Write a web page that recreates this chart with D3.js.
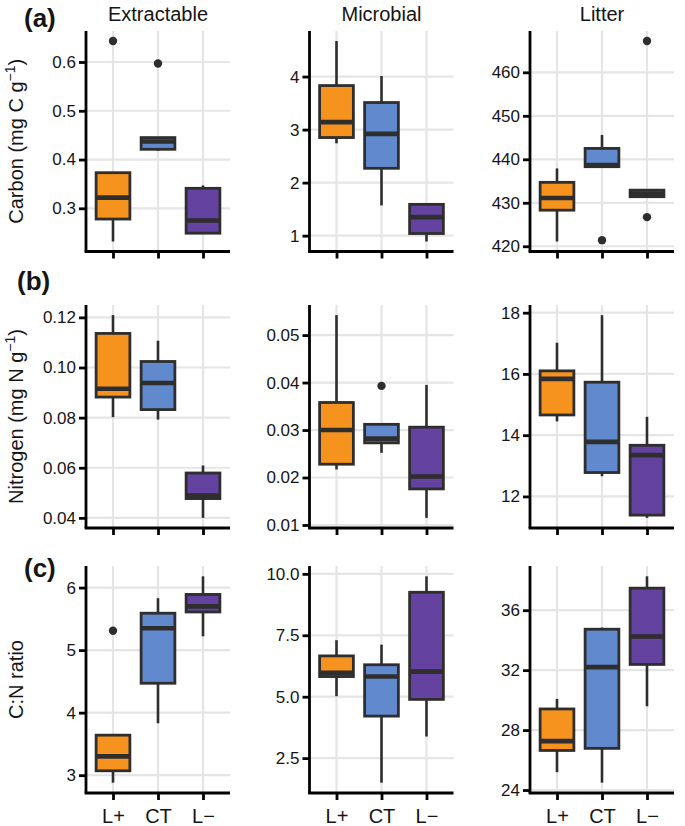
<!DOCTYPE html>
<html>
<head>
<meta charset="utf-8">
<script src="https://cdn.jsdelivr.net/npm/d3@7"></script>
<style>
  body { margin: 0; background: #fff; }
  svg { display: block; font-family: "Liberation Sans", Arial, Helvetica, sans-serif; }
</style>
</head>
<body>
<svg id="chart" width="685" height="826"></svg>
<script>
// ---- data ----
const groups = ["L+", "CT", "L\u2212"];
const colTitles = ["Extractable", "Microbial", "Litter"];
const rowLabels = ["(a)", "(b)", "(c)"];
const fillColors = ["#F6931E", "#6189CE", "#6442A0"];

// each group: [lowerWhisker, q1, median, q3, upperWhisker]
const carbonExtractable = [[0.232, 0.278, 0.322, 0.373, 0.373], [0.418, 0.421, 0.437, 0.445, 0.445], [0.249, 0.249, 0.275, 0.341, 0.347]];
const carbonExtractableOut = [[0.643], [0.597], []];
const carbonMicrobial = [[2.74, 2.85, 3.14, 3.83, 4.67], [1.57, 2.27, 2.92, 3.51, 4.01], [0.89, 1.04, 1.35, 1.59, 1.59]];
const carbonMicrobialOut = [[], [], []];
const carbonLitter = [[421.1, 428.3, 431.1, 434.7, 437.9], [438.3, 438.3, 438.7, 442.5, 445.6], [431.4, 431.4, 432.0, 432.9, 432.9]];
const carbonLitterOut = [[], [421.4], [467.2, 426.7]];

const nitrogenExtractable = [[0.0802, 0.0882, 0.0915, 0.1136, 0.1209], [0.0792, 0.0832, 0.0938, 0.1024, 0.1107], [0.040, 0.0477, 0.0489, 0.0579, 0.0609]];
const nitrogenExtractableOut = [[], [], []];
const nitrogenMicrobial = [[0.0217, 0.0228, 0.0300, 0.0358, 0.0542], [0.0252, 0.0273, 0.0282, 0.0312, 0.0312], [0.0115, 0.0176, 0.0202, 0.0306, 0.0395]];
const nitrogenMicrobialOut = [[], [0.0393], []];
const nitrogenLitter = [[14.45, 14.66, 15.84, 16.10, 17.02], [12.66, 12.78, 13.78, 15.73, 17.92], [11.30, 11.39, 13.35, 13.67, 14.60]];
const nitrogenLitterOut = [[], [], []];

const cnExtractable = [[2.88, 3.07, 3.30, 3.64, 3.64], [3.83, 4.47, 5.35, 5.59, 5.83], [5.22, 5.61, 5.70, 5.89, 6.18]];
const cnExtractableOut = [[5.31], [], []];
const cnMicrobial = [[5.02, 5.82, 5.97, 6.66, 7.30], [1.50, 4.21, 5.82, 6.30, 7.12], [3.38, 4.89, 6.02, 9.25, 9.90]];
const cnMicrobialOut = [[], [], []];
const cnLitter = [[25.19, 26.64, 27.26, 29.41, 30.08], [24.49, 26.78, 32.2, 34.73, 34.84], [29.59, 32.38, 34.24, 37.47, 38.26]];
const cnLitterOut = [[], [], []];

const ticksCarbonExtractable = [0.3, 0.4, 0.5, 0.6];
const ticksCarbonMicrobial = [1, 2, 3, 4];
const ticksCarbonLitter = [420, 430, 440, 450, 460];
const ticksNitrogenExtractable = [0.04, 0.06, 0.08, 0.10, 0.12];
const ticksNitrogenMicrobial = [0.01, 0.02, 0.03, 0.04, 0.05];
const ticksNitrogenLitter = [12, 14, 16, 18];
const ticksCnExtractable = [3, 4, 5, 6];
const ticksCnMicrobial = [2.5, 5.0, 7.5, 10.0];
const ticksCnLitter = [24, 28, 32, 36];

const panels = [
  [
    {stats: carbonExtractable, out: carbonExtractableOut, ticks: ticksCarbonExtractable, fmt: ".1f"},
    {stats: carbonMicrobial, out: carbonMicrobialOut, ticks: ticksCarbonMicrobial, fmt: "d"},
    {stats: carbonLitter, out: carbonLitterOut, ticks: ticksCarbonLitter, fmt: "d"}
  ],
  [
    {stats: nitrogenExtractable, out: nitrogenExtractableOut, ticks: ticksNitrogenExtractable, fmt: ".2f"},
    {stats: nitrogenMicrobial, out: nitrogenMicrobialOut, ticks: ticksNitrogenMicrobial, fmt: ".2f"},
    {stats: nitrogenLitter, out: nitrogenLitterOut, ticks: ticksNitrogenLitter, fmt: "d"}
  ],
  [
    {stats: cnExtractable, out: cnExtractableOut, ticks: ticksCnExtractable, fmt: "d"},
    {stats: cnMicrobial, out: cnMicrobialOut, ticks: ticksCnMicrobial, fmt: ".1f"},
    {stats: cnLitter, out: cnLitterOut, ticks: ticksCnLitter, fmt: "d"}
  ]
];

// ---- layout ----
const colX = [86, 309.5, 530];
const panelW = 144;
const rowY = [[31, 251.5], [305, 528], [566, 793]];
const ink = "#2e2e2e";
const gridCol = "#e5e5e5";
const txt = "#151515";

const svg = d3.select("#chart");

panels.forEach((row, ri) => {
  row.forEach((p, ci) => {
    const x0 = colX[ci], x1 = x0 + panelW;
    const yTop = rowY[ri][0], yBot = rowY[ri][1];
    const allVals = p.stats.flat().concat(p.out.flat());
    const mn = d3.min(allVals), mx = d3.max(allVals);
    const pad = (mx - mn) * 0.05;
    const y = d3.scaleLinear().domain([mn - pad, mx + pad]).range([yBot, yTop]);
    // ggplot discrete expansion 0.6 units each side
    const x = d3.scalePoint().domain(groups).range([x0 + panelW * 0.6 / 3.2, x1 - panelW * 0.6 / 3.2]);
    const unit = panelW / 3.2;
    const bw = unit * 0.75;

    const g = svg.append("g");
    // grid
    g.selectAll("line.hg").data(p.ticks).join("line")
      .attr("x1", x0).attr("x2", x1)
      .attr("y1", d => y(d)).attr("y2", d => y(d))
      .attr("stroke", gridCol).attr("stroke-width", 2.2);
    g.selectAll("line.vg").data(groups).join("line")
      .attr("x1", d => x(d)).attr("x2", d => x(d))
      .attr("y1", yTop).attr("y2", yBot)
      .attr("stroke", gridCol).attr("stroke-width", 2.2);

    // boxes
    p.stats.forEach((s, i) => {
      const c = x(groups[i]);
      g.append("line").attr("x1", c).attr("x2", c).attr("y1", y(s[4])).attr("y2", y(s[3]))
        .attr("stroke", ink).attr("stroke-width", 2.6);
      g.append("line").attr("x1", c).attr("x2", c).attr("y1", y(s[1])).attr("y2", y(s[0]))
        .attr("stroke", ink).attr("stroke-width", 2.6);
      g.append("rect").attr("x", c - bw / 2).attr("width", bw)
        .attr("y", y(s[3])).attr("height", Math.max(0.5, y(s[1]) - y(s[3])))
        .attr("fill", fillColors[i]).attr("stroke", ink).attr("stroke-width", 2.8);
      g.append("line").attr("x1", c - bw / 2).attr("x2", c + bw / 2)
        .attr("y1", y(s[2])).attr("y2", y(s[2]))
        .attr("stroke", ink).attr("stroke-width", 4.6);
      p.out[i].forEach(o => {
        g.append("circle").attr("cx", c).attr("cy", y(o)).attr("r", 4.2).attr("fill", ink);
      });
    });

    // y axis
    const fmt = d3.format(p.fmt);
    const yAxis = d3.axisLeft(y).tickValues(p.ticks).tickSize(7).tickPadding(3).tickFormat(d => fmt(d));
    const ya = svg.append("g").attr("transform", `translate(${x0},0)`).call(yAxis);
    ya.select(".domain").attr("d", `M0,${yTop}V${yBot}`).attr("stroke", "#000").attr("stroke-width", 2.8);
    ya.selectAll(".tick line").attr("stroke", "#000").attr("stroke-width", 2.8);
    ya.selectAll(".tick text").attr("font-size", 17).attr("fill", txt).attr("font-family", "Liberation Sans, Arial, sans-serif");

    // x axis
    const xAxis = d3.axisBottom(x).tickSize(7).tickPadding(9).tickFormat(ri === 2 ? (d => d) : () => "");
    const xa = svg.append("g").attr("transform", `translate(0,${yBot})`).call(xAxis);
    xa.select(".domain").attr("d", `M${x0 - 1.4},0H${x1}`).attr("stroke", "#000").attr("stroke-width", 2.8);
    xa.selectAll(".tick line").attr("stroke", "#000").attr("stroke-width", 2.8);
    xa.selectAll(".tick text").attr("font-size", 20).attr("fill", txt).attr("font-family", "Liberation Sans, Arial, sans-serif");

    // column title
    if (ri === 0) {
      svg.append("text").attr("x", (x0 + x1) / 2).attr("y", 21).attr("text-anchor", "middle")
        .attr("font-size", 20).attr("fill", txt).text(colTitles[ci]);
    }
  });
});

// row labels
const rowLabelPos = [[24, 27], [17, 290], [24, 577]];
rowLabels.forEach((l, i) => {
  svg.append("text").attr("x", rowLabelPos[i][0]).attr("y", rowLabelPos[i][1])
    .attr("font-size", 26).attr("font-weight", "bold").attr("fill", txt).text(l);
});

// y titles
function yTitle(cy, main, unitLetter) {
  const t = svg.append("text").attr("transform", `translate(23,${cy}) rotate(-90)`)
    .attr("text-anchor", "middle").attr("font-size", 20).attr("fill", txt);
  if (unitLetter) {
    t.append("tspan").text(`${main} (mg ${unitLetter} g`);
    t.append("tspan").attr("font-size", 14).attr("dy", -8).text("\u22121");
    t.append("tspan").attr("dy", 8).text(")");
  } else {
    t.text(main);
  }
}
yTitle((rowY[0][0] + rowY[0][1]) / 2, "Carbon", "C");
yTitle((rowY[1][0] + rowY[1][1]) / 2, "Nitrogen", "N");
yTitle((rowY[2][0] + rowY[2][1]) / 2, "C:N ratio", null);
</script>
</body>
</html>
